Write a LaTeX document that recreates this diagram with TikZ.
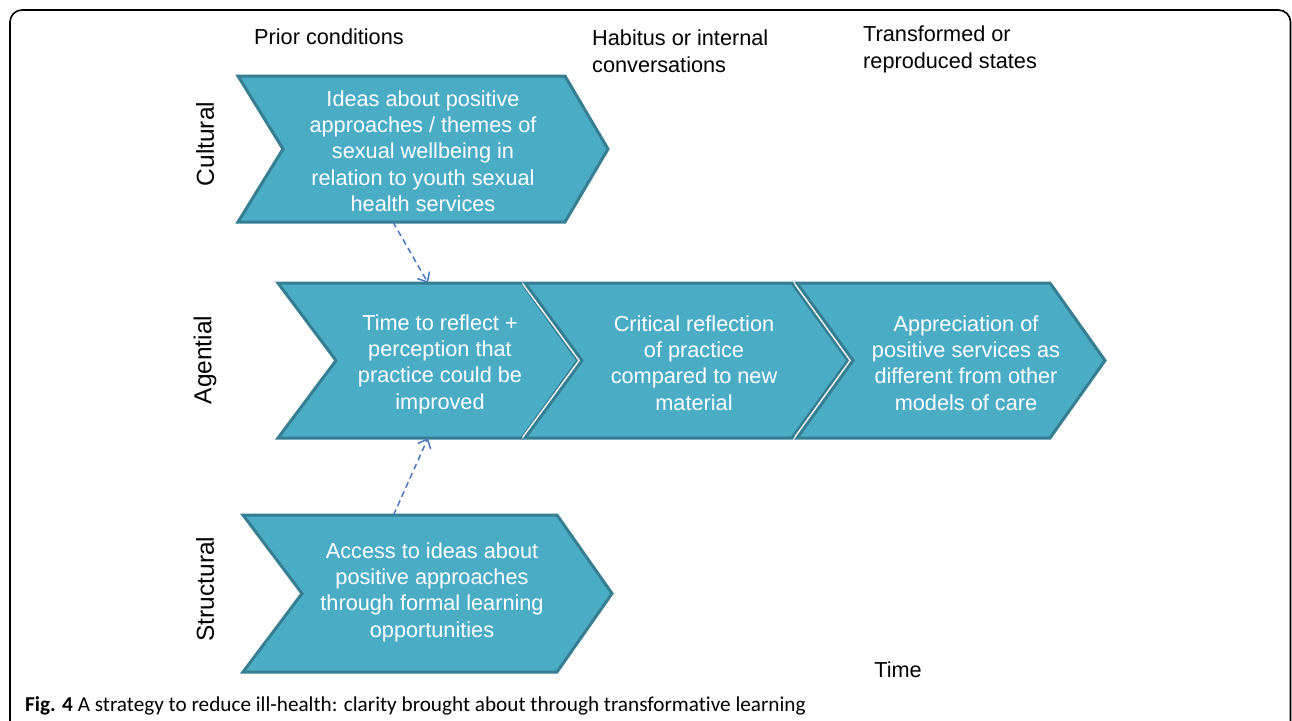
\documentclass[tikz,border=0pt]{standalone}
\usepackage{fontspec}
\setmainfont{Liberation Sans}
\newfontfamily\capfont[Ligatures=NoCommon]{Carlito}
\usetikzlibrary{arrows.meta,calc}
\definecolor{chfill}{HTML}{4BACC6}
\definecolor{chline}{HTML}{367E92}
\definecolor{arblue}{HTML}{4A78C0}
\newcommand\mychev[6]{%
  \draw[white, line width=6pt, line join=round] (#1,#5) -- (#2,#5) -- (#3,{(#5+#6)/2}) -- (#2,#6) -- (#1,#6) -- (#4,{(#5+#6)/2}) -- cycle;
  \draw[chevpath] (#1,#5) -- (#2,#5) -- (#3,{(#5+#6)/2}) -- (#2,#6) -- (#1,#6) -- (#4,{(#5+#6)/2}) -- cycle;
}
\tikzset{
  chevpath/.style={fill=chfill, draw=chline, line width=3pt, line join=miter},
  boxtext/.style={text=white, align=center, inner sep=0pt, font=\fontsize{21.7}{26.3}\selectfont},
  headtext/.style={text=black, align=left, anchor=west, inner sep=0pt, font=\fontsize{21.7}{26.8}\selectfont},
  rowlabel/.style={text=black, rotate=90, inner sep=0pt, font=\fontsize{24.5}{28}\selectfont},
  hitbox/.style={inner sep=0pt, outer sep=0pt, draw=none},
  dasharrow/.style={arblue, line width=1.5pt, dash pattern=on 6pt off 4pt, -{Straight Barb[length=8pt,width=14pt,line width=1.5pt]}}
}
\begin{document}
\begin{tikzpicture}[x=1pt, y=-1pt]
\useasboundingbox (0,0) rectangle (1292,720);
% frame
\draw[black, line width=1.6pt, rounded corners=12pt] (10,10) rectangle (1290.5,740);

% chevrons
\mychev{238}{565}{608}{283}{76}{222}
\mychev{243}{557}{612}{302}{515}{672}
\mychev{278}{522}{578}{336}{283}{438}
\mychev{525}{792}{848}{582}{283}{438}
\mychev{797}{1050}{1105}{853}{283}{438}

% invisible boxes spanning the chevrons
\node[hitbox, minimum width=370pt, minimum height=146pt] (culbox) at (423,149) {};
\node[hitbox, minimum width=300pt, minimum height=155pt] (agabox) at (428,360.5) {};
\node[hitbox, minimum width=369pt, minimum height=157pt] (strbox) at (427.5,593.5) {};

% box texts
\node[boxtext] (cul) at (423,151) {Ideas about positive\\approaches / themes of\\sexual wellbeing in\\relation to youth sexual\\health services};
\node[boxtext] (aga) at (440,364) {Time to reflect +\\perception that\\practice could be\\improved};
\node[boxtext] (agb) at (694,363) {Critical reflection\\of practice\\compared to new\\material};
\node[boxtext] (agc) at (966,363) {Appreciation of\\positive services as\\different from other\\models of care};
\node[boxtext] (str) at (432,592) {Access to ideas about\\positive approaches\\through formal learning\\opportunities};

% headings
\node[headtext] (h1) at (254,37) {Prior conditions};
\node[headtext] (h2) at (592,51) {Habitus or internal\\conversations};
\node[headtext] (h3) at (863,49) {Transformed or\\reproduced states};
\node[headtext, anchor=center] (time) at (898,670) {Time};

% row labels
\node[rowlabel] (lc) at (205,144) {Cultural};
\node[rowlabel] (la) at (205,360) {Agential};
\node[rowlabel] (ls) at (205,589) {Structural};

% dashed connectors
\draw[dasharrow] ([xshift=-30pt]culbox.south) -- (agabox.north);
\draw[dasharrow] ([xshift=-34pt]strbox.north) -- (agabox.south);

% caption
\node[anchor=base west, inner sep=0pt, font=\capfont\fontsize{21.2}{24}\selectfont] (cap) at (25,711) {\textbf{Fig. 4} A strategy to reduce ill-health: clarity brought about through transformative learning};
\end{tikzpicture}
\end{document}
